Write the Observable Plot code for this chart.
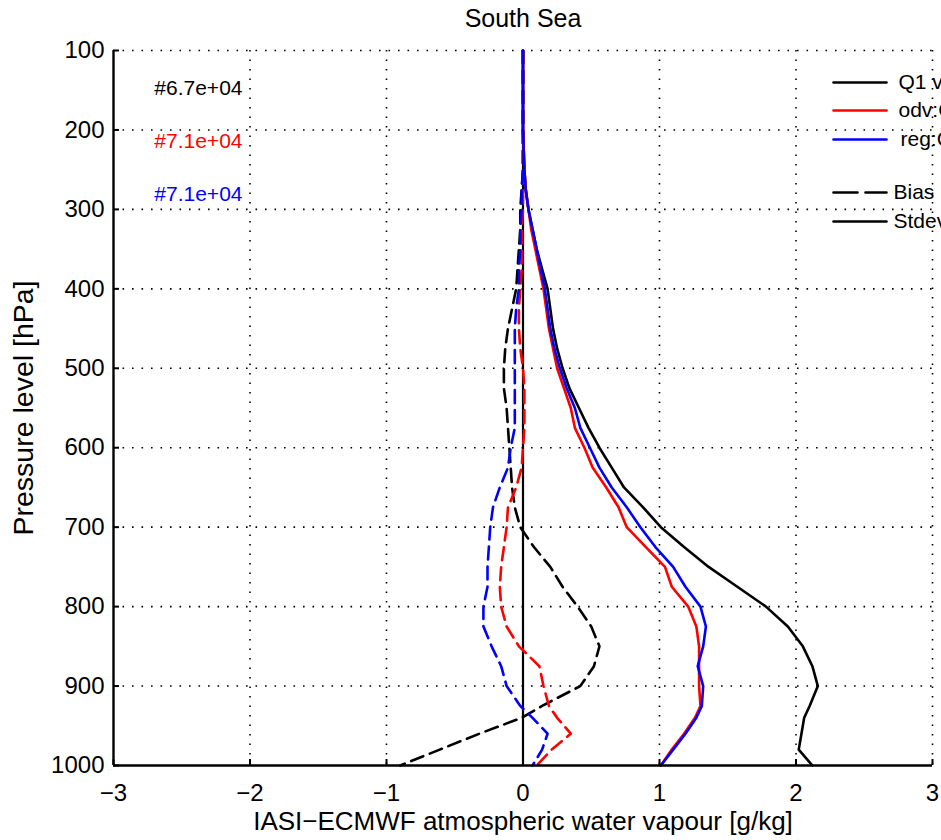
<!DOCTYPE html>
<html><head><meta charset="utf-8">
<script src="https://cdn.jsdelivr.net/npm/d3@7"></script>
<script src="https://cdn.jsdelivr.net/npm/@observablehq/plot@0.6"></script>
<style>
html,body{margin:0;padding:0;background:#fff;}
#chart{width:941px;height:840px;overflow:hidden;}
</style></head><body><div id="chart"></div>
<script>
const title = "South Sea";
const xLabel = "IASI\u2212ECMWF atmospheric water vapour [g/kg]";
const yLabel = "Pressure level [hPa]";
const xTicks = [-3, -2, -1, 0, 1, 2, 3];
const yTicks = [100, 200, 300, 400, 500, 600, 700, 800, 900, 1000];
const xGrid = [-2, -1, 1, 2, 3];
const yGrid = [100, 200, 300, 400, 500, 600, 700, 800, 900];

const pressure = [100,150,200,225,250,275,300,325,350,375,400,425,450,475,500,525,550,575,600,625,650,675,700,725,750,775,800,825,850,875,900,925,940,960,980,1000];

// Standard deviation profiles (solid)
const q1Stdev  = [0,0,0,0.005,0.01,0.02,0.04,0.07,0.10,0.14,0.18,0.20,0.22,0.25,0.29,0.34,0.41,0.48,0.56,0.65,0.74,0.88,1.01,1.18,1.36,1.57,1.78,1.94,2.05,2.12,2.16,2.10,2.06,2.04,2.02,2.12];
const odvStdev = [0,0,0,0.005,0.01,0.02,0.04,0.06,0.09,0.12,0.15,0.17,0.19,0.22,0.25,0.30,0.35,0.38,0.45,0.51,0.61,0.70,0.76,0.90,1.04,1.09,1.21,1.27,1.29,1.29,1.29,1.30,1.26,1.18,1.09,1.01];
const regStdev = [0,0,0,0.005,0.01,0.02,0.04,0.07,0.10,0.13,0.16,0.18,0.20,0.23,0.27,0.32,0.38,0.42,0.49,0.56,0.65,0.76,0.86,0.97,1.10,1.19,1.30,1.34,1.32,1.28,1.32,1.31,1.27,1.19,1.10,1.01];
// Bias profiles (dashed)
const q1Bias  = [0,0,0,0,0,-0.01,-0.02,-0.02,-0.03,-0.04,-0.05,-0.08,-0.11,-0.13,-0.14,-0.14,-0.12,-0.11,-0.10,-0.09,-0.08,-0.06,-0.02,0.08,0.20,0.29,0.40,0.50,0.56,0.52,0.42,0.14,-0.01,-0.32,-0.61,-0.90];
const odvBias = [0,0,0,0,0,0,0,-0.01,-0.01,-0.01,-0.02,-0.03,-0.03,-0.02,0.0,0.01,0.01,0.01,0.0,-0.01,-0.05,-0.11,-0.12,-0.14,-0.16,-0.17,-0.16,-0.12,-0.03,0.12,0.15,0.19,0.25,0.35,0.21,0.10];
const regBias = [0,0,0,0,0,-0.01,-0.01,-0.02,-0.02,-0.03,-0.03,-0.05,-0.06,-0.06,-0.06,-0.06,-0.06,-0.06,-0.09,-0.11,-0.17,-0.22,-0.24,-0.25,-0.26,-0.26,-0.29,-0.29,-0.23,-0.16,-0.12,-0.02,0.07,0.18,0.14,0.07];

const seriesNames = ["Q1 v", "odv:C", "reg:C"];
const seriesColors = ["black", "red", "blue"];
const styleNames = ["Bias", "Stdev"];
const counts = ["#6.7e+04", "#7.1e+04", "#7.1e+04"];

const fmt = d => d < 0 ? "\u2212" + Math.abs(d) : String(d);
const dotted = {stroke: "black", strokeOpacity: 1, strokeWidth: 1.6, strokeDasharray: "1.6,7.9"};
const dash = "13,7";
const lw = 2.6;
const lineShape = {draw(ctx, l) { ctx.moveTo(0, 0); ctx.lineTo(0, -l); }};

const profile = (vals, color, dashed) => Plot.line(pressure, {
  x: (d, i) => vals[i], y: d => d,
  stroke: color, strokeWidth: lw, strokeDasharray: dashed ? dash : null, curve: "linear"
});

const legendRows = [
  {text: seriesNames[0], color: seriesColors[0], dashed: false, dy: 32, tdx: -34},
  {text: seriesNames[1], color: seriesColors[1], dashed: false, dy: 60, tdx: -34},
  {text: seriesNames[2], color: seriesColors[2], dashed: false, dy: 89, tdx: -32},
  {text: styleNames[0], color: "black", dashed: true, dy: 142, tdx: -39},
  {text: styleNames[1], color: "black", dashed: false, dy: 171, tdx: -39}
];
const countOffsets = [38, 91, 144];

const chart = Plot.plot({
  width: 941, height: 840,
  marginLeft: 113, marginRight: 9, marginTop: 50, marginBottom: 75,
  style: {fontFamily: "'Liberation Sans', Arial, sans-serif", fontSize: "24px", color: "black", background: "white"},
  x: {domain: [-3, 3], label: null},
  y: {domain: [100, 1000], reverse: true, label: null},
  marks: [
    Plot.gridX({ticks: xGrid, ...dotted}),
    Plot.gridY({ticks: yGrid, ...dotted}),
    Plot.ruleX([0], {stroke: "black", strokeWidth: 2.2}),
    profile(q1Bias, seriesColors[0], true),
    profile(odvBias, seriesColors[1], true),
    profile(regBias, seriesColors[2], true),
    profile(q1Stdev, seriesColors[0], false),
    profile(odvStdev, seriesColors[1], false),
    profile(regStdev, seriesColors[2], false),
    Plot.ruleX([-3], {stroke: "black", strokeWidth: 2.4}),
    Plot.ruleY([1000], {stroke: "black", strokeWidth: 2.4}),
    Plot.axisX({ticks: xTicks, tickSize: -6, tickPadding: 24, tickFormat: fmt, label: null, fontSize: 24, strokeWidth: 2}),
    Plot.axisY({ticks: yTicks, tickSize: -6, tickPadding: 15, tickFormat: d => String(d), label: null, fontSize: 24, strokeWidth: 2}),
    Plot.text([title], {frameAnchor: "top", dy: -32, fontSize: 25, lineAnchor: "middle", textAnchor: "middle", text: d => d}),
    Plot.text([xLabel], {frameAnchor: "bottom", dy: 56, fontSize: 26, lineAnchor: "middle", textAnchor: "middle", text: d => d}),
    Plot.text([yLabel], {frameAnchor: "left", dx: -90, rotate: -90, fontSize: 28.5, lineAnchor: "middle", textAnchor: "middle", text: d => d}),
    ...counts.map((c, i) => Plot.text([c], {frameAnchor: "top-left", dx: 129, dy: countOffsets[i], textAnchor: "end", lineAnchor: "middle", fontSize: 21, fill: seriesColors[i], text: d => d})),
    ...legendRows.map(r => Plot.vector([r.text], {frameAnchor: "top-right", dx: -99, dy: r.dy, length: 53, rotate: 90, anchor: "start", shape: lineShape, stroke: r.color, strokeWidth: lw, strokeDasharray: r.dashed ? "24,8" : null})),
    ...legendRows.map(r => Plot.text([r.text], {frameAnchor: "top-right", dx: r.tdx, dy: r.dy, textAnchor: "start", lineAnchor: "middle", fontSize: 21, fill: "black", text: d => d}))
  ]
});
document.getElementById("chart").appendChild(chart);
</script></body></html>
